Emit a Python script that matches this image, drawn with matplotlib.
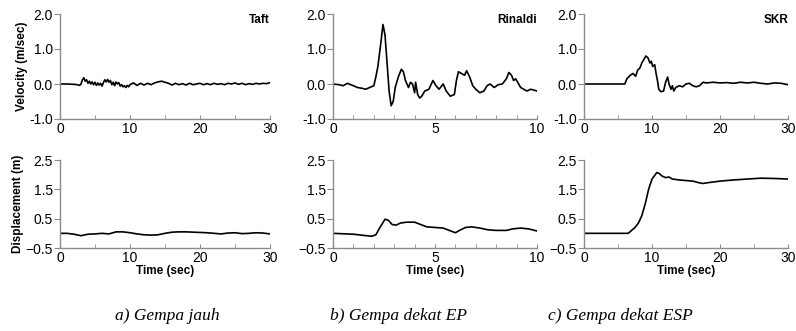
import matplotlib.pyplot as plt
from matplotlib.ticker import MultipleLocator

# Taft (far-field)
taft_vel_t = [0, 1, 2, 2.5, 2.8, 3.0, 3.2, 3.4, 3.6, 3.8, 4.0, 4.2, 4.4, 4.6, 4.8,
              5.0, 5.2, 5.4, 5.6, 5.8, 6.0, 6.2, 6.4, 6.6, 6.8, 7.0, 7.2, 7.4, 7.6,
              7.8, 8.0, 8.2, 8.4, 8.6, 8.8, 9.0, 9.2, 9.4, 9.6, 9.8, 10.0, 10.5,
              11.0, 11.5, 12.0, 12.5, 13.0, 13.5, 14.0, 14.5, 15.0, 15.5, 16.0,
              16.5, 17.0, 17.5, 18.0, 18.5, 19.0, 19.5, 20.0, 20.5, 21.0, 21.5,
              22.0, 22.5, 23.0, 23.5, 24.0, 24.5, 25.0, 25.5, 26.0, 26.5, 27.0,
              27.5, 28.0, 28.5, 29.0, 29.5, 30.0]
taft_vel = [0, 0, -0.01, -0.02, -0.04, 0.0, 0.12, 0.18, 0.08, 0.12, 0.02, 0.08,
            0.0, 0.06, -0.02, 0.05, -0.04, 0.03, -0.03, 0.02, -0.06, 0.04, 0.12,
            0.06, 0.13, 0.05, 0.1, -0.02, 0.05, -0.05, 0.06, 0.0, 0.04, -0.06,
            -0.02, -0.08, -0.05, -0.1, -0.04, -0.08, -0.02, 0.03, -0.04, 0.02,
            -0.03, 0.02, -0.02, 0.03, 0.06, 0.08, 0.05, 0.02, -0.03, 0.02, -0.02,
            0.01, -0.03, 0.02, -0.02, 0.0, 0.02, -0.02, 0.01, -0.02, 0.02, -0.01,
            0.01, -0.02, 0.02, 0.0, 0.03, -0.01, 0.02, -0.02, 0.01, -0.01, 0.02,
            0.0, 0.02, 0.01, 0.04]
taft_disp_t = list(range(0, 31))
taft_disp = [0.0, 0.0, -0.03, -0.08, -0.03, -0.02, 0.0, -0.02, 0.05, 0.05, 0.02,
             -0.02, -0.05, -0.06, -0.05, 0.0, 0.04, 0.05, 0.05, 0.04, 0.03, 0.02,
             0.0, -0.02, 0.01, 0.02, -0.01, 0.0, 0.02, 0.01, -0.02]

# Rinaldi (near-field, EP)
rin_vel_t = [0, 0.3, 0.5, 0.7, 1.0, 1.2, 1.4, 1.6, 1.8, 2.0, 2.1, 2.2, 2.35, 2.45,
             2.55, 2.65, 2.75, 2.85, 2.95, 3.05, 3.2, 3.35, 3.45, 3.55, 3.7, 3.8,
             3.9, 4.0, 4.05, 4.15, 4.25, 4.35, 4.5, 4.7, 4.9, 5.05, 5.2, 5.4, 5.55,
             5.75, 5.95, 6.05, 6.15, 6.3, 6.45, 6.55, 6.7, 6.85, 7.0, 7.2, 7.4,
             7.55, 7.7, 7.9, 8.1, 8.3, 8.5, 8.62, 8.75, 8.85, 8.95, 9.1, 9.2, 9.35,
             9.5, 9.7, 10.0]
rin_vel = [0.0, -0.02, -0.05, 0.02, -0.05, -0.1, -0.12, -0.15, -0.1, -0.05, 0.2,
           0.5, 1.2, 1.7, 1.4, 0.6, -0.2, -0.62, -0.5, -0.1, 0.2, 0.42, 0.35, 0.1,
           -0.1, 0.05, 0.0, -0.25, 0.05, -0.3, -0.4, -0.35, -0.2, -0.15, 0.1,
           -0.05, -0.15, 0.0, -0.2, -0.35, -0.3, 0.1, 0.35, 0.3, 0.25, 0.38, 0.2,
           -0.05, -0.15, -0.25, -0.2, -0.05, 0.0, -0.1, -0.02, 0.0, 0.15, 0.33,
           0.25, 0.1, 0.15, 0.0, -0.1, -0.15, -0.2, -0.15, -0.2]
rin_disp_t = [0, 1.0, 1.5, 1.9, 2.1, 2.3, 2.55, 2.7, 2.9, 3.1, 3.3, 3.6, 4.0, 4.3,
              4.6, 5.0, 5.4, 5.7, 6.0, 6.2, 6.5, 6.8, 7.2, 7.6, 8.0, 8.5, 8.8, 9.2,
              9.6, 10.0]
rin_disp = [0.0, -0.03, -0.07, -0.1, -0.05, 0.2, 0.48, 0.45, 0.3, 0.28, 0.35, 0.38,
            0.38, 0.3, 0.22, 0.2, 0.18, 0.1, 0.02, 0.1, 0.2, 0.22, 0.18, 0.12, 0.1,
            0.1, 0.15, 0.18, 0.15, 0.08]

# SKR (near-field, ESP)
skr_vel_t = [0, 6.0, 6.3, 6.8, 7.2, 7.6, 7.9, 8.2, 8.5, 8.8, 9.1, 9.4, 9.7, 9.9,
             10.1, 10.4, 10.6, 10.8, 11.0, 11.3, 11.7, 12.0, 12.3, 12.5, 12.8,
             13.0, 13.2, 13.5, 14.0, 14.5, 15.0, 15.5, 16.0, 16.5, 17.0, 17.5, 18,
             19, 20, 21, 22, 23, 24, 25, 26, 27, 28, 29, 30]
skr_vel = [0.0, 0.0, 0.15, 0.25, 0.3, 0.22, 0.4, 0.45, 0.6, 0.7, 0.8, 0.75, 0.6,
           0.65, 0.5, 0.55, 0.3, 0.1, -0.15, -0.22, -0.2, 0.05, 0.2, 0.0, -0.15,
           -0.05, -0.2, -0.1, -0.05, -0.08, 0.0, 0.02, -0.05, -0.08, -0.05, 0.05,
           0.03, 0.05, 0.03, 0.04, 0.02, 0.05, 0.03, 0.05, 0.02, 0.0, 0.03, 0.02,
           -0.02]
skr_disp_t = [0, 6.5, 7, 7.5, 8.0, 8.5, 9.0, 9.5, 10.0, 10.7, 11, 11.5, 12, 12.5,
              13, 14, 15, 16, 17, 17.5, 18, 19, 20, 22, 24, 26, 28, 30]
skr_disp = [0.0, 0.0, 0.1, 0.2, 0.35, 0.6, 1.0, 1.5, 1.85, 2.07, 2.05, 1.95, 1.9,
            1.92, 1.85, 1.82, 1.8, 1.78, 1.72, 1.7, 1.72, 1.75, 1.78, 1.82, 1.85,
            1.88, 1.87, 1.85]

names = ['Taft', 'Rinaldi', 'SKR']
xmax = [30, 10, 30]
xmajor = [10, 5, 10]
xminor = [5, 1, 5]
captions = ['a) Gempa jauh', 'b) Gempa dekat EP', 'c) Gempa dekat ESP']
vel = [(taft_vel_t, taft_vel), (rin_vel_t, rin_vel), (skr_vel_t, skr_vel)]
disp = [(taft_disp_t, taft_disp), (rin_disp_t, rin_disp), (skr_disp_t, skr_disp)]

W, H = 796, 331
lefts = [60, 333, 584]
widths = [210, 204, 204]
spine_col = '#8c8c8c'

plt.rcParams['font.family'] = ['Liberation Sans', 'DejaVu Sans']

fig = plt.figure(figsize=(W / 100, H / 100), dpi=100)


def style(ax, i, ylim, yticks):
    for s in ['top', 'right']:
        ax.spines[s].set_visible(False)
    for s in ['left', 'bottom']:
        ax.spines[s].set_color(spine_col)
        ax.spines[s].set_linewidth(1.0)
    ax.set_xlim(0, xmax[i])
    ax.set_ylim(*ylim)
    ax.set_yticks(yticks)
    ax.xaxis.set_major_locator(MultipleLocator(xmajor[i]))
    ax.xaxis.set_minor_locator(MultipleLocator(xminor[i]))
    ax.tick_params(axis='y', direction='out', length=4, color=spine_col,
                   labelsize=10, pad=1)
    ax.tick_params(axis='x', which='both', direction='in', length=3,
                   color=spine_col, labelsize=10, pad=2)


for i in range(3):
    top = fig.add_axes([lefts[i] / W, (H - 119) / H, widths[i] / W, 105 / H])
    t, v = vel[i]
    top.plot(t, v, color='black', lw=1.2)
    style(top, i, (-1.0, 2.0), [-1.0, 0.0, 1.0, 2.0])
    top.yaxis.set_major_formatter(plt.FormatStrFormatter('%.1f'))
    top.text(1.0, 1.0, names[i], transform=top.transAxes, ha='right',
             va='top', fontsize=8.5, fontweight='bold')

    bot = fig.add_axes([lefts[i] / W, (H - 248) / H, widths[i] / W, 88 / H])
    t, d = disp[i]
    bot.plot(t, d, color='black', lw=1.2)
    style(bot, i, (-0.5, 2.5), [-0.5, 0.5, 1.5, 2.5])
    bot.set_xlabel('Time (sec)', fontsize=8.5, fontweight='bold', labelpad=0)

    if i == 0:
        top.set_ylabel('Velocity (m/sec)', fontsize=8.5, fontweight='bold',
                       labelpad=1)
        bot.set_ylabel('Displacement (m)', fontsize=8.5, fontweight='bold',
                       labelpad=1)

    cx = [167, 398, 620][i]
    fig.text(cx / W, (H - 316) / H, captions[i], ha='center', va='center',
             fontsize=12.5, style='italic', family='Liberation Serif')

fig.savefig('out.png', dpi=100)
